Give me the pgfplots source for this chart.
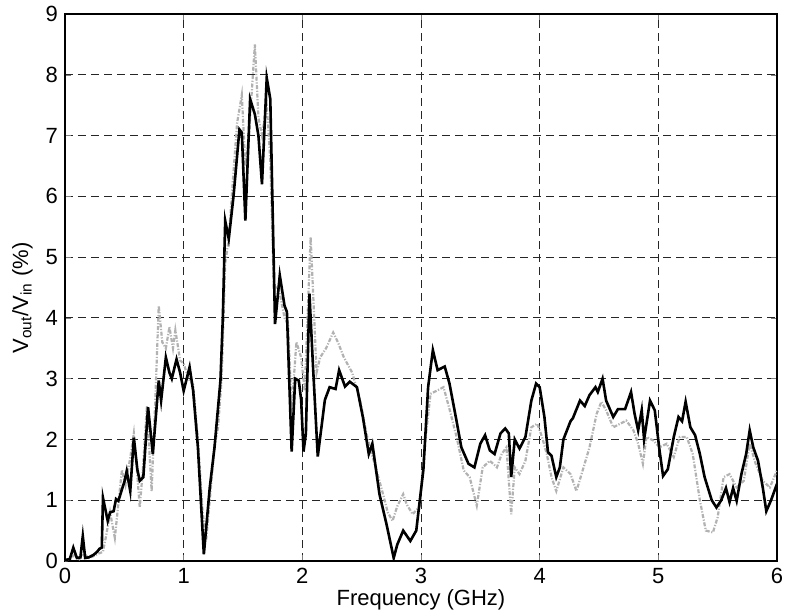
\documentclass[border=0pt]{standalone}
\usepackage{pgfplots}
\pgfplotsset{compat=1.18}
\usepackage{fontspec}
\setmainfont{Liberation Sans}
\begin{document}
\begin{tikzpicture}
\begin{axis}[
  at={(0,0)}, anchor=south west,
  scale only axis, width=356pt, height=273.5pt,
  xmin=0, xmax=6, ymin=0, ymax=9,
  xtick={0,1,2,3,4,5,6}, ytick={0,1,...,9},
  /pgf/number format/assume math mode=true,
  tick label style={font=\fontsize{11}{12}\selectfont},
  label style={font=\fontsize{11}{12}\selectfont},
  tick align=inside, major tick length=3pt,
  axis line style={line width=0.6pt},
  grid=major,
  major grid style={black!85, line width=0.5pt, dash pattern=on 4pt off 2.5pt},
  xlabel={Frequency (GHz)},
  ylabel={V\textsubscript{out}/V\textsubscript{in} (\%)},
  xlabel style={at={(axis description cs:0.5,0)}, anchor=north, inner sep=0pt, yshift=-14pt},
  ylabel style={at={(axis description cs:-0.045,0.481)}, anchor=south, inner sep=0pt, rotate=0},
]
\addplot[color=black!30, line width=1.1pt, dash pattern=on 2pt off 0.8pt on 0.6pt off 0.8pt] coordinates {
(0.00,0.00)(0.04,0.03)(0.08,0.10)(0.12,0.03)(0.16,0.12)(0.20,0.05)(0.24,0.08)(0.28,0.12)(0.32,0.15)
(0.35,0.45)(0.38,0.80)(0.42,0.38)(0.45,0.95)(0.48,1.50)(0.51,1.25)(0.55,1.70)(0.58,2.10)(0.61,1.40)
(0.63,0.88)(0.66,1.60)(0.69,2.55)(0.73,1.15)(0.76,2.60)(0.79,4.20)(0.82,3.60)(0.85,3.50)(0.88,3.85)
(0.91,3.50)(0.93,3.80)(0.97,3.30)(1.00,3.25)(1.04,3.00)(1.08,2.90)(1.12,2.00)(1.16,0.80)(1.19,0.35)
(1.22,1.00)(1.26,1.90)(1.29,2.20)(1.32,3.00)(1.35,4.90)(1.38,5.30)(1.42,6.40)(1.45,7.20)(1.49,7.67)
(1.52,6.50)(1.55,7.00)(1.58,7.90)(1.60,8.50)(1.63,7.30)(1.66,7.00)(1.70,7.50)(1.73,6.60)(1.76,4.50)
(1.80,4.50)(1.85,4.00)(1.88,3.90)(1.91,2.50)(1.95,3.60)(1.99,3.35)(2.02,2.80)(2.07,5.33)(2.09,4.45)
(2.12,3.10)(2.15,3.35)(2.20,3.50)(2.26,3.76)(2.30,3.60)(2.35,3.35)(2.42,3.10)(2.49,2.62)(2.54,2.10)
(2.58,1.80)(2.62,1.53)(2.68,1.10)(2.72,0.80)(2.76,0.66)(2.80,0.90)(2.85,1.10)(2.88,0.93)(2.93,0.77)
(2.99,0.90)(3.03,1.87)(3.08,2.75)(3.13,2.80)(3.19,2.86)(3.24,2.50)(3.30,2.04)(3.36,1.49)(3.41,1.38)
(3.47,0.91)(3.52,1.54)(3.58,1.65)(3.64,1.54)(3.68,1.76)(3.72,1.87)(3.76,0.77)(3.79,1.54)(3.83,1.43)
(3.88,1.65)(3.93,2.20)(3.98,2.26)(4.02,2.04)(4.06,1.76)(4.10,1.38)(4.14,1.15)(4.20,1.54)(4.26,1.43)
(4.31,1.15)(4.37,1.54)(4.42,1.87)(4.48,2.42)(4.52,2.62)(4.56,2.48)(4.62,2.20)(4.68,2.26)(4.73,2.31)
(4.79,2.15)(4.83,1.93)(4.87,1.60)(4.90,2.04)(4.96,1.98)(5.01,1.87)(5.07,1.93)(5.13,1.71)(5.18,2.04)
(5.24,2.04)(5.29,1.76)(5.35,1.00)(5.40,0.50)(5.46,0.47)(5.50,0.72)(5.55,1.38)(5.60,1.43)(5.66,1.21)
(5.72,1.32)(5.77,1.93)(5.82,1.60)(5.88,1.32)(5.94,1.21)(6.00,1.49)
};
\addplot[color=black, line width=1.3pt] coordinates {
(0.00,0.00)(0.01,0.02)(0.04,0.03)(0.07,0.22)(0.10,0.05)(0.13,0.06)(0.15,0.41)(0.17,0.05)(0.20,0.06)
(0.24,0.10)(0.27,0.15)(0.29,0.20)(0.31,0.22)(0.32,1.04)(0.36,0.66)(0.38,0.80)(0.41,0.82)(0.43,1.02)
(0.45,0.99)(0.48,1.18)(0.50,1.30)(0.52,1.48)(0.55,1.15)(0.58,2.03)(0.61,1.50)(0.63,1.32)(0.66,1.38)
(0.70,2.53)(0.74,1.76)(0.79,2.97)(0.81,2.64)(0.85,3.35)(0.88,3.10)(0.90,3.00)(0.94,3.32)(0.97,3.10)
(1.00,2.80)(1.05,3.19)(1.08,2.80)(1.12,1.87)(1.17,0.11)(1.22,1.21)(1.26,1.87)(1.31,2.97)(1.33,4.00)
(1.35,5.60)(1.38,5.30)(1.42,6.00)(1.47,7.10)(1.49,7.05)(1.52,5.60)(1.56,7.60)(1.60,7.35)(1.63,7.00)
(1.66,6.20)(1.70,7.95)(1.73,7.60)(1.77,3.90)(1.81,4.70)(1.85,4.20)(1.87,4.10)(1.91,1.80)(1.94,3.00)
(1.97,2.97)(1.99,2.65)(2.01,1.80)(2.03,2.10)(2.06,4.40)(2.09,3.20)(2.13,1.72)(2.19,2.65)(2.23,2.86)
(2.28,2.83)(2.31,3.14)(2.36,2.87)(2.40,2.95)(2.46,2.86)(2.51,2.37)(2.56,1.76)(2.59,1.93)(2.65,1.10)
(2.71,0.60)(2.77,0.05)(2.80,0.27)(2.85,0.50)(2.91,0.33)(2.96,0.50)(3.02,1.50)(3.06,2.86)(3.10,3.47)
(3.14,3.14)(3.20,3.20)(3.24,2.92)(3.30,2.30)(3.34,1.87)(3.40,1.60)(3.45,1.54)(3.50,1.93)(3.54,2.07)
(3.58,1.82)(3.62,1.76)(3.67,2.10)(3.71,2.18)(3.74,2.10)(3.76,1.38)(3.79,2.00)(3.83,1.85)(3.88,2.04)
(3.93,2.64)(3.97,2.92)(4.00,2.86)(4.04,2.37)(4.07,1.79)(4.10,1.73)(4.14,1.38)(4.17,1.54)(4.20,2.00)
(4.26,2.30)(4.28,2.35)(4.34,2.64)(4.38,2.55)(4.42,2.73)(4.47,2.86)(4.49,2.78)(4.53,3.00)(4.56,2.64)
(4.62,2.37)(4.66,2.50)(4.72,2.50)(4.77,2.78)(4.80,2.42)(4.83,2.15)(4.86,2.48)(4.88,2.00)(4.93,2.64)
(4.97,2.48)(5.01,1.82)(5.04,1.40)(5.08,1.51)(5.13,2.04)(5.17,2.37)(5.20,2.30)(5.23,2.62)(5.27,2.20)
(5.31,2.07)(5.35,1.76)(5.39,1.38)(5.45,1.00)(5.49,0.88)(5.53,1.00)(5.57,1.20)(5.60,0.97)(5.63,1.20)
(5.66,0.99)(5.70,1.43)(5.74,1.76)(5.77,2.15)(5.80,1.87)(5.84,1.65)(5.88,1.21)(5.91,0.82)(5.95,1.00)
(6.00,1.27)
};
\end{axis}
\pgfresetboundingbox
\path (-32.5pt,-27pt) rectangle (360pt,280.5pt);
\end{tikzpicture}
\end{document}
